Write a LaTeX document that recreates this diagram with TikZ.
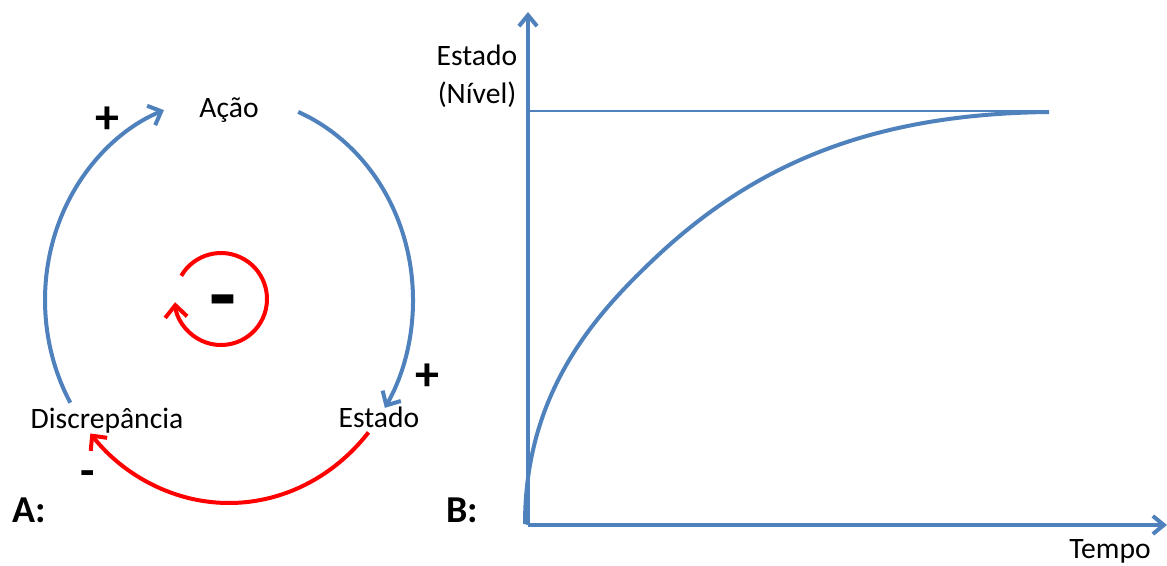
\documentclass[tikz,border=0pt]{standalone}
\usepackage{fontspec}
\setmainfont{Carlito}
\usetikzlibrary{arrows.meta}
\definecolor{cblue}{HTML}{4F81BD}
\definecolor{cred}{HTML}{FF0000}
\begin{document}
\begin{tikzpicture}[x=1pt,y=1pt,yscale=-1,
  lbl/.style={font=\fontsize{29.6}{36}\selectfont, inner sep=0, anchor=base, text=black},
  sgn/.style={font=\bfseries\fontsize{48}{52}\selectfont, inner sep=0},
  bigl/.style={font=\bfseries\fontsize{38}{42}\selectfont, inner sep=0, anchor=base west},
  blueline/.style={draw=cblue, line width=4pt},
  redline/.style={draw=cred, line width=4pt},
  looptip/.style={-{Straight Barb[length=11pt, width=21pt]}},
  axtip/.style={-{Straight Barb[length=11pt, width=18pt]}}]
\useasboundingbox (0,0) rectangle (1167,565);

% ---------- Part A: causal loop ----------
\node[lbl] (acao) at (229,117) {Ação};
\node[lbl] (disc) at (107,428) {Discrepância};
\node[lbl] (est)  at (379,427) {Estado};

\coordinate (a1) at ({229+184*cos(149.6)},{300+203*sin(149.6)});
\coordinate (a2) at ({229+184*cos(-67.9)},{300+203*sin(-67.9)});
\coordinate (a3) at ({229+184*cos(40.7)},{300+203*sin(40.7)});
\draw[blueline, looptip] (a1) arc[start angle=149.6, end angle=249.3, x radius=184pt, y radius=203pt];
\draw[blueline, looptip] (a2) arc[start angle=-67.9, end angle=32.1, x radius=184pt, y radius=203pt];
\draw[redline, looptip]  (a3) arc[start angle=40.7, end angle=138.9, x radius=184pt, y radius=203pt];

\coordinate (s1) at ({221+46*cos(210.3)},{299+46*sin(210.3)});
\draw[redline, -{Straight Barb[length=12pt, width=22pt]}] (s1) arc[start angle=210.3, end angle=536, radius=46pt];

\node[sgn] (p1) at (107,120) {+};
\node[sgn] (p2) at (427,377) {+};
\node[font=\bfseries\fontsize{47}{50}\selectfont, inner sep=0, anchor=base] (m1) at (88,486) {-};
\node[font=\bfseries\fontsize{88}{90}\selectfont, inner sep=0, anchor=base] (m0) at (223,324) {-};

\node[bigl] (la) at (12,522) {A:};
\node[bigl] (lb) at (446,522) {B:};

% ---------- Part B: graph ----------
\coordinate (o) at (528,525);
\coordinate (ytop) at (528,12);
\coordinate (xend) at (1167,525);
\draw[blueline, axtip] (o) -- (ytop);
\draw[blueline, axtip] (o) -- (xend);
\coordinate (h0) at (528,111);
\coordinate (h1) at (1045,111);
\draw[draw=cblue, line width=1.5pt] (h0) -- (h1);
\coordinate (c0) at (525,524);
\coordinate (cm) at (653,260);
\coordinate (c1) at (1049,112);
\draw[blueline] (c0) .. controls (525,394) and (593,317) .. (cm)
                     .. controls (753,165) and (870,114) .. (c1);

\node[lbl] (ey) at (477,65) {Estado};
\node[lbl] (ny) at (477,103) {(Nível)};
\node[lbl] (tx) at (1110,558) {Tempo};
\end{tikzpicture}
\end{document}
